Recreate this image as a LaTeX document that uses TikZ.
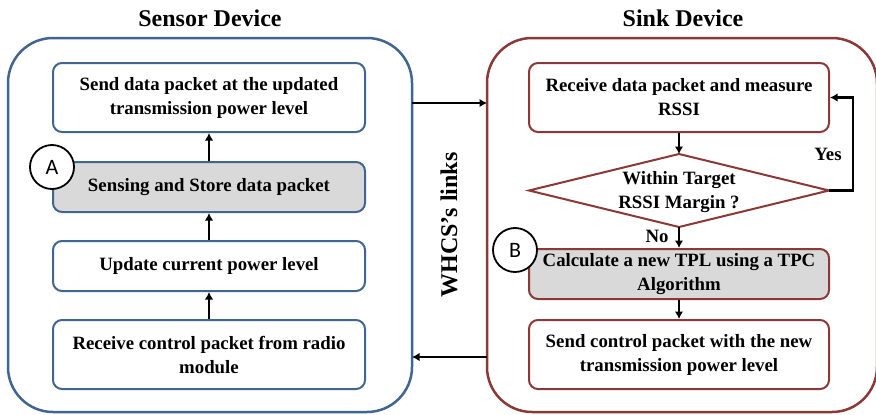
\documentclass[tikz,border=0pt]{standalone}
\usepackage{fontspec}
\setmainfont{Liberation Serif}
\newfontfamily\circfont{Carlito}
\usetikzlibrary{arrows.meta}
\definecolor{sblue}{RGB}{65,101,145}
\definecolor{sred}{RGB}{140,56,54}
\definecolor{sgray}{RGB}{217,217,217}
\begin{document}
\begin{tikzpicture}[x=1pt,y=-1pt,
  txt/.style={font=\bfseries\fontsize{18.8}{24}\selectfont, align=center},
  lbox/.style={txt, draw=sblue, line width=2pt, rounded corners=9pt, fill=white, minimum width=312pt, inner sep=0pt},
  rbox/.style={txt, draw=sred, line width=2pt, rounded corners=9pt, fill=white, minimum width=300pt, inner sep=0pt},
  tall/.style={minimum height=69pt},
  short/.style={minimum height=50pt},
  shaded/.style={fill=sgray},
  arr/.style={line width=2.5pt, -{Latex[length=7.5pt,width=8.5pt]}},
  circ/.style={circle, draw=black, line width=1.8pt, fill=white, minimum size=44pt, inner sep=0pt, font=\circfont\fontsize{22}{22}\selectfont},
  title/.style={font=\bfseries\fontsize{24}{28}\selectfont},
  container/.style={line width=2.5pt, rounded corners=45pt, minimum height=374pt, inner sep=0pt}
]
\useasboundingbox (0,0) rectangle (876,415);
% containers
\node[container, draw=sblue, minimum width=404pt] (lc) at (210,225) {};
\node[container, draw=sred, minimum width=390pt] (rc) at (682,225) {};
% titles
\node[title] (lt) at (210,18) {Sensor Device};
\node[title] (rt) at (683,18) {Sink Device};
\node[title, rotate=90] (wl) at (449,225) {WHCS’s links};
% left boxes
\node[lbox, tall] (l1) at (209,97.5) {Send data packet at the updated\\transmission power level};
\node[lbox, short, shaded] (l2) at (209,187) {Sensing and Store data packet};
\node[lbox, short] (l3) at (209,266) {Update current power level};
\node[lbox, tall] (l4) at (209,354.5) {Receive control packet from radio\\module};
\draw[arr] (l4.north) -- (l3.south);
\draw[arr] (l3.north) -- (l2.south);
\draw[arr] (l2.north) -- (l1.south);
\node[circ] (ca) at (52,167) {A};
% right boxes
\node[rbox, tall] (r1) at (679,97.5) {Receive data packet and measure\\RSSI};
\coordinate (dt) at (679,154);
\coordinate (dl) at (529,190.5);
\coordinate (dr) at (829,190.5);
\coordinate (db) at (679,227);
\draw[draw=sred, line width=2pt, fill=white] (dt) -- (dr) -- (db) -- (dl) -- cycle;
\node[txt] (dtx) at (679,192) {Within Target\\RSSI Margin ?};
\node[rbox, short, shaded] (r3) at (679,274) {Calculate a new TPL using a TPC\\Algorithm};
\node[rbox, tall] (r4) at (679,354.5) {Send control packet with the new\\transmission power level};
\draw[arr] (r1.south) -- (dt);
\draw[arr] (db) -- (r3.north);
\draw[arr] (r3.south) -- (r4.north);
\draw[arr] (dr) -- ++(24,0) |- (r1.east);
\node[txt] (no) at (657,236) {No};
\node[txt] (yes) at (828,154) {Yes};
\node[circ] (cb) at (515,250) {B};
% links between devices
\coordinate (a1s) at (412,103);
\coordinate (a1e) at (487,103);
\coordinate (a2s) at (487,357);
\coordinate (a2e) at (412,357);
\draw[arr] (a1s) -- (a1e);
\draw[arr] (a2s) -- (a2e);
\end{tikzpicture}
\end{document}
